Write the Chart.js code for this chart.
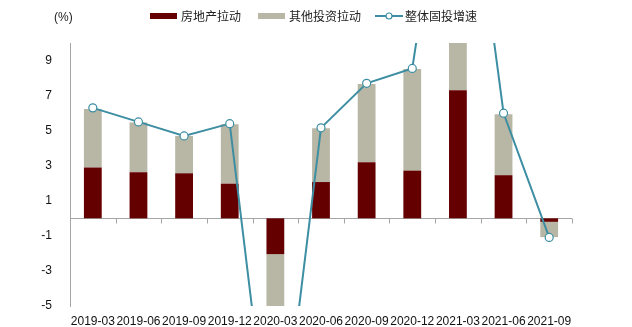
<!DOCTYPE html>
<html>
<head>
<meta charset="utf-8">
<script src="https://cdn.jsdelivr.net/npm/chart.js@4"></script>
<style>
  body { margin: 0; background: #fff; overflow: hidden; }
  #wrap { position: relative; width: 632px; height: 327px; overflow: hidden; }
  #chart { position: absolute; left: 0; top: 0; }
  .lbl { position: absolute; font: 12px "Noto Sans CJK SC", "Liberation Sans", sans-serif; color: #222; line-height: 14px; white-space: nowrap; }
  .box { position: absolute; height: 6px; width: 27px; }
</style>
</head>
<body>
<div id="wrap">
  <canvas id="chart" width="632" height="327"></canvas>
  <div class="lbl" style="left:54px; top:10px; font-family:'Liberation Sans',sans-serif;">(%)</div>
  <div class="box" style="left:150px; top:13px; background:#640000;"></div>
  <div class="lbl" style="left:181px; top:9px;">房地产拉动</div>
  <div class="box" style="left:258px; top:13px; background:#b8b7a6;"></div>
  <div class="lbl" style="left:289px; top:9px;">其他投资拉动</div>
  <svg style="position:absolute; left:375px; top:10px;" width="28" height="12">
    <line x1="0" y1="6" x2="28" y2="6" stroke="#3d8ea2" stroke-width="2"/>
    <circle cx="14" cy="6" r="3" fill="#fff" stroke="#3d8ea2" stroke-width="1.2"/>
  </svg>
  <div class="lbl" style="left:405px; top:9px;">整体固投增速</div>
</div>
<script>
const categories = ['2019-03', '2019-06', '2019-09', '2019-12', '2020-03', '2020-06',
                    '2020-09', '2020-12', '2021-03', '2021-06', '2021-09'];
const realEstate = [2.9, 2.63, 2.57, 1.98, -2.04, 2.07, 3.2, 2.72, 7.31, 2.46, -0.2];
const otherInvest = [3.33, 2.84, 2.13, 3.39, -14.0, 3.07, 4.46, 5.79, 12.0, 3.48, -0.87];
const totalGrowth = [6.3, 5.5, 4.7, 5.4, -16.1, 5.16, 7.7, 8.55, 25.6, 6.0, -1.09];
const yTicks = [-5, -3, -1, 1, 3, 5, 7, 9];

const RED = '#640000';
const GREY = '#b8b7a6';
const TEAL = '#3d8ea2';

// zero line + little tick marks between categories
const zeroAxis = {
    id: 'zeroAxis',
    beforeDatasetsDraw(chart) {
        const ctx = chart.ctx;
        const x = chart.scales.x, y = chart.scales.y;
        const y0 = Math.round(y.getPixelForValue(0)) + 0.5;
        const step = (x.right - x.left) / categories.length;
        ctx.save();
        ctx.strokeStyle = '#a6a6a6';
        ctx.lineWidth = 1;
        ctx.beginPath();
        ctx.moveTo(x.left, y0);
        ctx.lineTo(x.right, y0);
        for (let i = 1; i <= categories.length; i++) {
            const tx = Math.round(x.left + step * i) + 0.5;
            ctx.moveTo(tx, y0);
            ctx.lineTo(tx, y0 + 5);
        }
        ctx.stroke();
        ctx.restore();
    }
};

new Chart(document.getElementById('chart'), {
    data: {
        labels: categories,
        datasets: [
            {
                type: 'line',
                label: '整体固投增速',
                data: totalGrowth,
                stack: 'line',
                borderColor: TEAL,
                borderWidth: 2,
                pointRadius: 4,
                pointBorderWidth: 1.2,
                pointBackgroundColor: '#fff',
                pointBorderColor: TEAL,
                tension: 0,
                order: 0
            },
            {
                type: 'bar',
                label: '房地产拉动',
                data: realEstate,
                stack: 'bars',
                backgroundColor: RED,
                categoryPercentage: 1,
                barPercentage: 0.39,
                order: 1
            },
            {
                type: 'bar',
                label: '其他投资拉动',
                data: otherInvest,
                stack: 'bars',
                backgroundColor: GREY,
                categoryPercentage: 1,
                barPercentage: 0.39,
                order: 2
            }
        ]
    },
    options: {
        responsive: false,
        animation: false,
        layout: { padding: { left: 0, right: 60, top: 43, bottom: 0 } },
        plugins: { legend: { display: false }, tooltip: { enabled: false } },
        scales: {
            x: {
                stacked: true,
                grid: { display: false, drawTicks: false },
                border: { display: false },
                ticks: { color: '#111', font: { family: 'Liberation Sans', size: 12 }, padding: 8, maxRotation: 0, autoSkip: false },
                afterFit(scale) { scale.height = 21; }
            },
            y: {
                stacked: true,
                min: -5,
                max: 10,
                grid: { display: false, drawTicks: false },
                border: { display: true, color: '#a6a6a6' },
                ticks: { color: '#111', font: { family: 'Liberation Sans', size: 12 }, padding: 18 },
                afterBuildTicks(scale) { scale.ticks = yTicks.map(v => ({ value: v })); },
                afterFit(scale) {
                    scale.width = 70;
                    // the tick padding otherwise gets reserved as bottom margin
                    scale.paddingTop = 0;
                    scale.paddingBottom = 0;
                }
            }
        }
    },
    plugins: [zeroAxis]
});
</script>
</body>
</html>
